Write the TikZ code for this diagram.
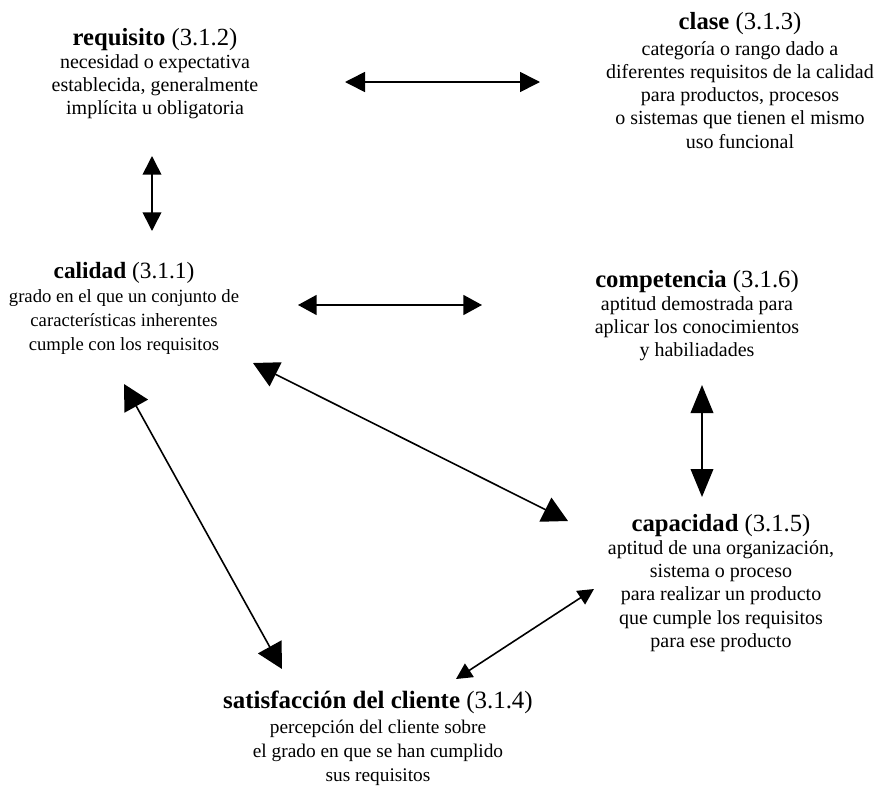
\documentclass[tikz,border=0pt]{standalone}
\usepackage{fontspec}
\setmainfont{Liberation Serif}
\usetikzlibrary{arrows.meta}
\newcommand{\termino}[3][18.5]{{\fontsize{#1}{20}\selectfont\textbf{#2} (#3)}}
\tikzset{
	concepto/.style={anchor=north, align=center, inner sep=0pt, font=\fontsize{15}{17.4}\selectfont},
	flecha/.style 2 args={line width=1.2pt, {Triangle[length=#1,width=#2]}-{Triangle[length=#1,width=#2]}},
}

\begin{document}
\begin{tikzpicture}[x=0.75pt, y=-0.75pt]
			%%%%% START %%%%%
			\useasboundingbox (0, 0) rectangle (882, 793);
			
			\node[concepto] (req) at (155, 28) {\termino{requisito}{3.1.2}\\necesidad o expectativa\\establecida, generalmente\\implícita u obligatoria};
			\node[concepto] (cls) at (740, 12) {\termino{clase}{3.1.3}\\[2pt]categoría o rango dado a\\diferentes requisitos de la calidad\\para productos, procesos\\o sistemas que tienen el mismo\\uso funcional};
			\node[concepto, font=\fontsize{14}{18}\selectfont] (cal) at (124, 262) {\termino[17.5]{calidad}{3.1.1}\\grado en el que un conjunto de\\características inherentes\\cumple con los requisitos};
			\node[concepto] (com) at (697, 270) {\termino{competencia}{3.1.6}\\aptitud demostrada para\\aplicar los conocimientos\\y habiliadades};
			\node[concepto] (cap) at (721, 514) {\termino{capacidad}{3.1.5}\\aptitud de una organización,\\sistema o proceso\\para realizar un producto\\que cumple los requisitos\\para ese producto};
			\node[concepto, font=\fontsize{14.5}{18.2}\selectfont] (sat) at (378, 691) {\termino[18.7]{satisfacción del cliente}{3.1.4}\\percepción del cliente sobre\\el grado en que se han cumplido\\sus requisitos};
			
			% extremos de las flechas
			\coordinate (req-e) at (345, 82);
			\coordinate (cls-w) at (540, 82);
			\coordinate (req-s) at (152, 156);
			\coordinate (cal-n) at (152, 231);
			\coordinate (cal-e) at (298, 305);
			\coordinate (com-w) at (482, 305);
			\coordinate (cal-se) at (253, 363);
			\coordinate (cap-nw) at (568, 521);
			\coordinate (cal-s) at (124, 384);
			\coordinate (sat-n) at (282, 669);
			\coordinate (com-s) at (702, 385);
			\coordinate (cap-n) at (702, 497);
			\coordinate (sat-ne) at (456, 679);
			\coordinate (cap-sw) at (594, 589);
			
			\draw[flecha={15pt}{15pt}] (req-e) -- (cls-w);
			\draw[flecha={14pt}{14pt}] (req-s) -- (cal-n);
			\draw[flecha={14pt}{15pt}] (cal-e) -- (com-w);
			\draw[flecha={19pt}{20pt}] (cal-se) -- (cap-nw);
			\draw[flecha={19pt}{20pt}] (cal-s) -- (sat-n);
			\draw[flecha={21pt}{17pt}] (com-s) -- (cap-n);
			\draw[flecha={12pt}{12pt}] (sat-ne) -- (cap-sw);
			
			%%%%% END %%%%%
\end{tikzpicture}
\end{document}
